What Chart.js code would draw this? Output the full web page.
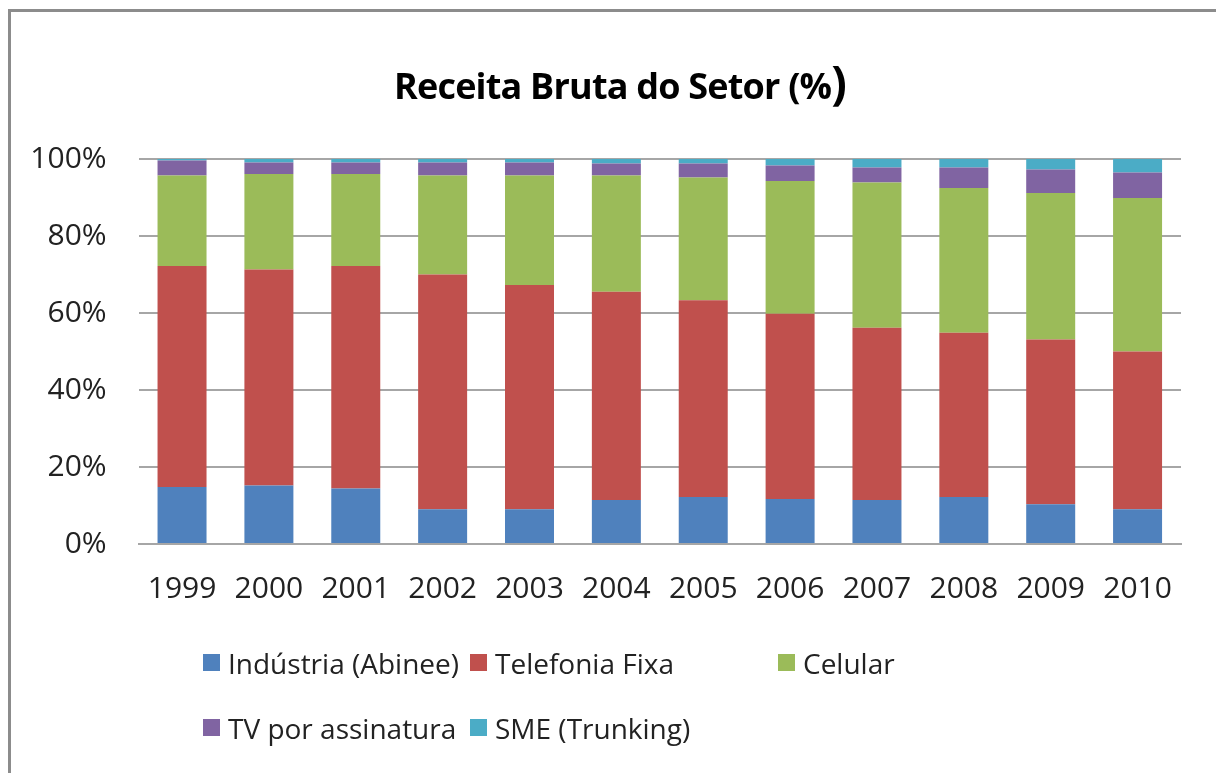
<!DOCTYPE html>
<html>
<head>
<meta charset="utf-8">
<script src="https://cdn.jsdelivr.net/npm/chart.js@4.4.1/dist/chart.umd.min.js"></script>
<style>
  html, body { margin: 0; padding: 0; background: #fff; overflow: hidden; }
  #wrap { position: relative; width: 1216px; height: 773px; overflow: hidden; }
  #frame { position: absolute; left: 8px; top: 9px; width: 1400px; height: 1000px;
           border-left: 3px solid #8c8c8c; border-top: 3px solid #8c8c8c; box-sizing: border-box; }
  canvas { position: absolute; left: 0; top: 0; }
  #title { position: absolute; left: 0; top: 63px; width: 1240px; text-align: center;
           font-family: 'Open Sans', sans-serif; font-weight: bold; font-size: 36px; line-height: 36px;
           color: #000; letter-spacing: -0.8px; white-space: nowrap; }
  #title .bp { font-size: 46px; font-weight: bold; }
  #legend { position: absolute; left: 203px; top: 630px; display: grid;
            grid-template-columns: 267px 308px auto; grid-auto-rows: 65px;
            font-family: 'Open Sans', sans-serif; font-size: 28px; color: #222; }
  .li { display: flex; align-items: center; white-space: nowrap; }
  .sw { width: 17px; height: 17px; margin-right: 8px; flex: none; }
</style>
</head>
<body>
<div id="wrap">
  <div id="frame"></div>
  <canvas id="c" width="1216" height="773"></canvas>
  <div id="title"></div>
  <div id="legend"></div>
</div>
<script>
const categories = ['1999','2000','2001','2002','2003','2004','2005','2006','2007','2008','2009','2010'];
const industria  = [14.8, 15.2, 14.4, 9.0, 9.0, 11.4, 12.2, 11.7, 11.4, 12.2, 10.3, 9.0];
const telefonia  = [57.4, 56.1, 57.8, 61.0, 58.3, 54.1, 51.1, 48.1, 44.8, 42.7, 42.8, 41.0];
const celular    = [23.5, 24.8, 23.9, 25.7, 28.4, 30.2, 31.9, 34.5, 37.7, 37.6, 38.1, 39.9];
const tvAssin    = [3.9, 3.0, 3.0, 3.4, 3.4, 3.1, 3.6, 4.0, 3.9, 5.3, 6.1, 6.6];
const sme        = [0.4, 0.9, 0.9, 0.9, 0.9, 1.2, 1.2, 1.7, 2.2, 2.2, 2.7, 3.5];
const seriesNames = ['Indústria (Abinee)', 'Telefonia Fixa', 'Celular', 'TV por assinatura', 'SME (Trunking)'];
const yTicks = [0, 20, 40, 60, 80, 100];
const titleMain = 'Receita Bruta do Setor (%';
const titleClose = ')';

const colors = ['#4F81BD', '#C0504D', '#9BBB59', '#8064A2', '#4BACC6'];
const seriesData = [industria, telefonia, celular, tvAssin, sme];

// title (real text)
(function () {
  const t = document.getElementById('title');
  t.appendChild(document.createTextNode(titleMain));
  const bp = document.createElement('span');
  bp.className = 'bp';
  bp.textContent = titleClose;
  t.appendChild(bp);
})();

const htmlLegend = {
  id: 'htmlLegend',
  afterUpdate(chart) {
    const box = document.getElementById('legend');
    box.innerHTML = '';
    const items = chart.options.plugins.legend.labels.generateLabels(chart);
    items.forEach(it => {
      const d = document.createElement('div');
      d.className = 'li';
      const s = document.createElement('span');
      s.className = 'sw';
      s.style.background = it.fillStyle;
      const t = document.createElement('span');
      t.textContent = it.text;
      d.appendChild(s); d.appendChild(t);
      box.appendChild(d);
    });
  }
};

new Chart(document.getElementById('c'), {
  type: 'bar',
  data: {
    labels: categories,
    datasets: seriesData.map((d, i) => ({
      label: seriesNames[i],
      data: d,
      backgroundColor: colors[i],
      borderWidth: 0,
      categoryPercentage: 1,
      barPercentage: 0.564
    }))
  },
  options: {
    responsive: false,
    animation: false,
    layout: { padding: { left: 0, right: 35, top: 159, bottom: 0 } },
    plugins: {
      legend: { display: false },
      tooltip: { enabled: false },
      title: { display: false }
    },
    scales: {
      x: {
        stacked: true,
        grid: { display: false, drawTicks: false },
        border: { display: true, color: '#a6a6a6', width: 2 },
        ticks: { color: '#222', font: { family: 'Open Sans', size: 30 }, padding: 27, maxRotation: 0 },
        afterFit: s => { s.height = 229; }
      },
      y: {
        stacked: true,
        min: 0, max: 100,
        afterBuildTicks: s => { s.ticks = yTicks.map(v => ({ value: v })); },
        grid: { color: '#a6a6a6', lineWidth: 2, drawTicks: false },
        border: { display: false },
        ticks: { color: '#222', font: { family: 'Open Sans', size: 30 }, padding: 32,
                 callback: v => v + '%' },
        afterFit: s => { s.width = 138.6; }
      }
    }
  },
  plugins: [htmlLegend]
});
</script>
</body>
</html>
